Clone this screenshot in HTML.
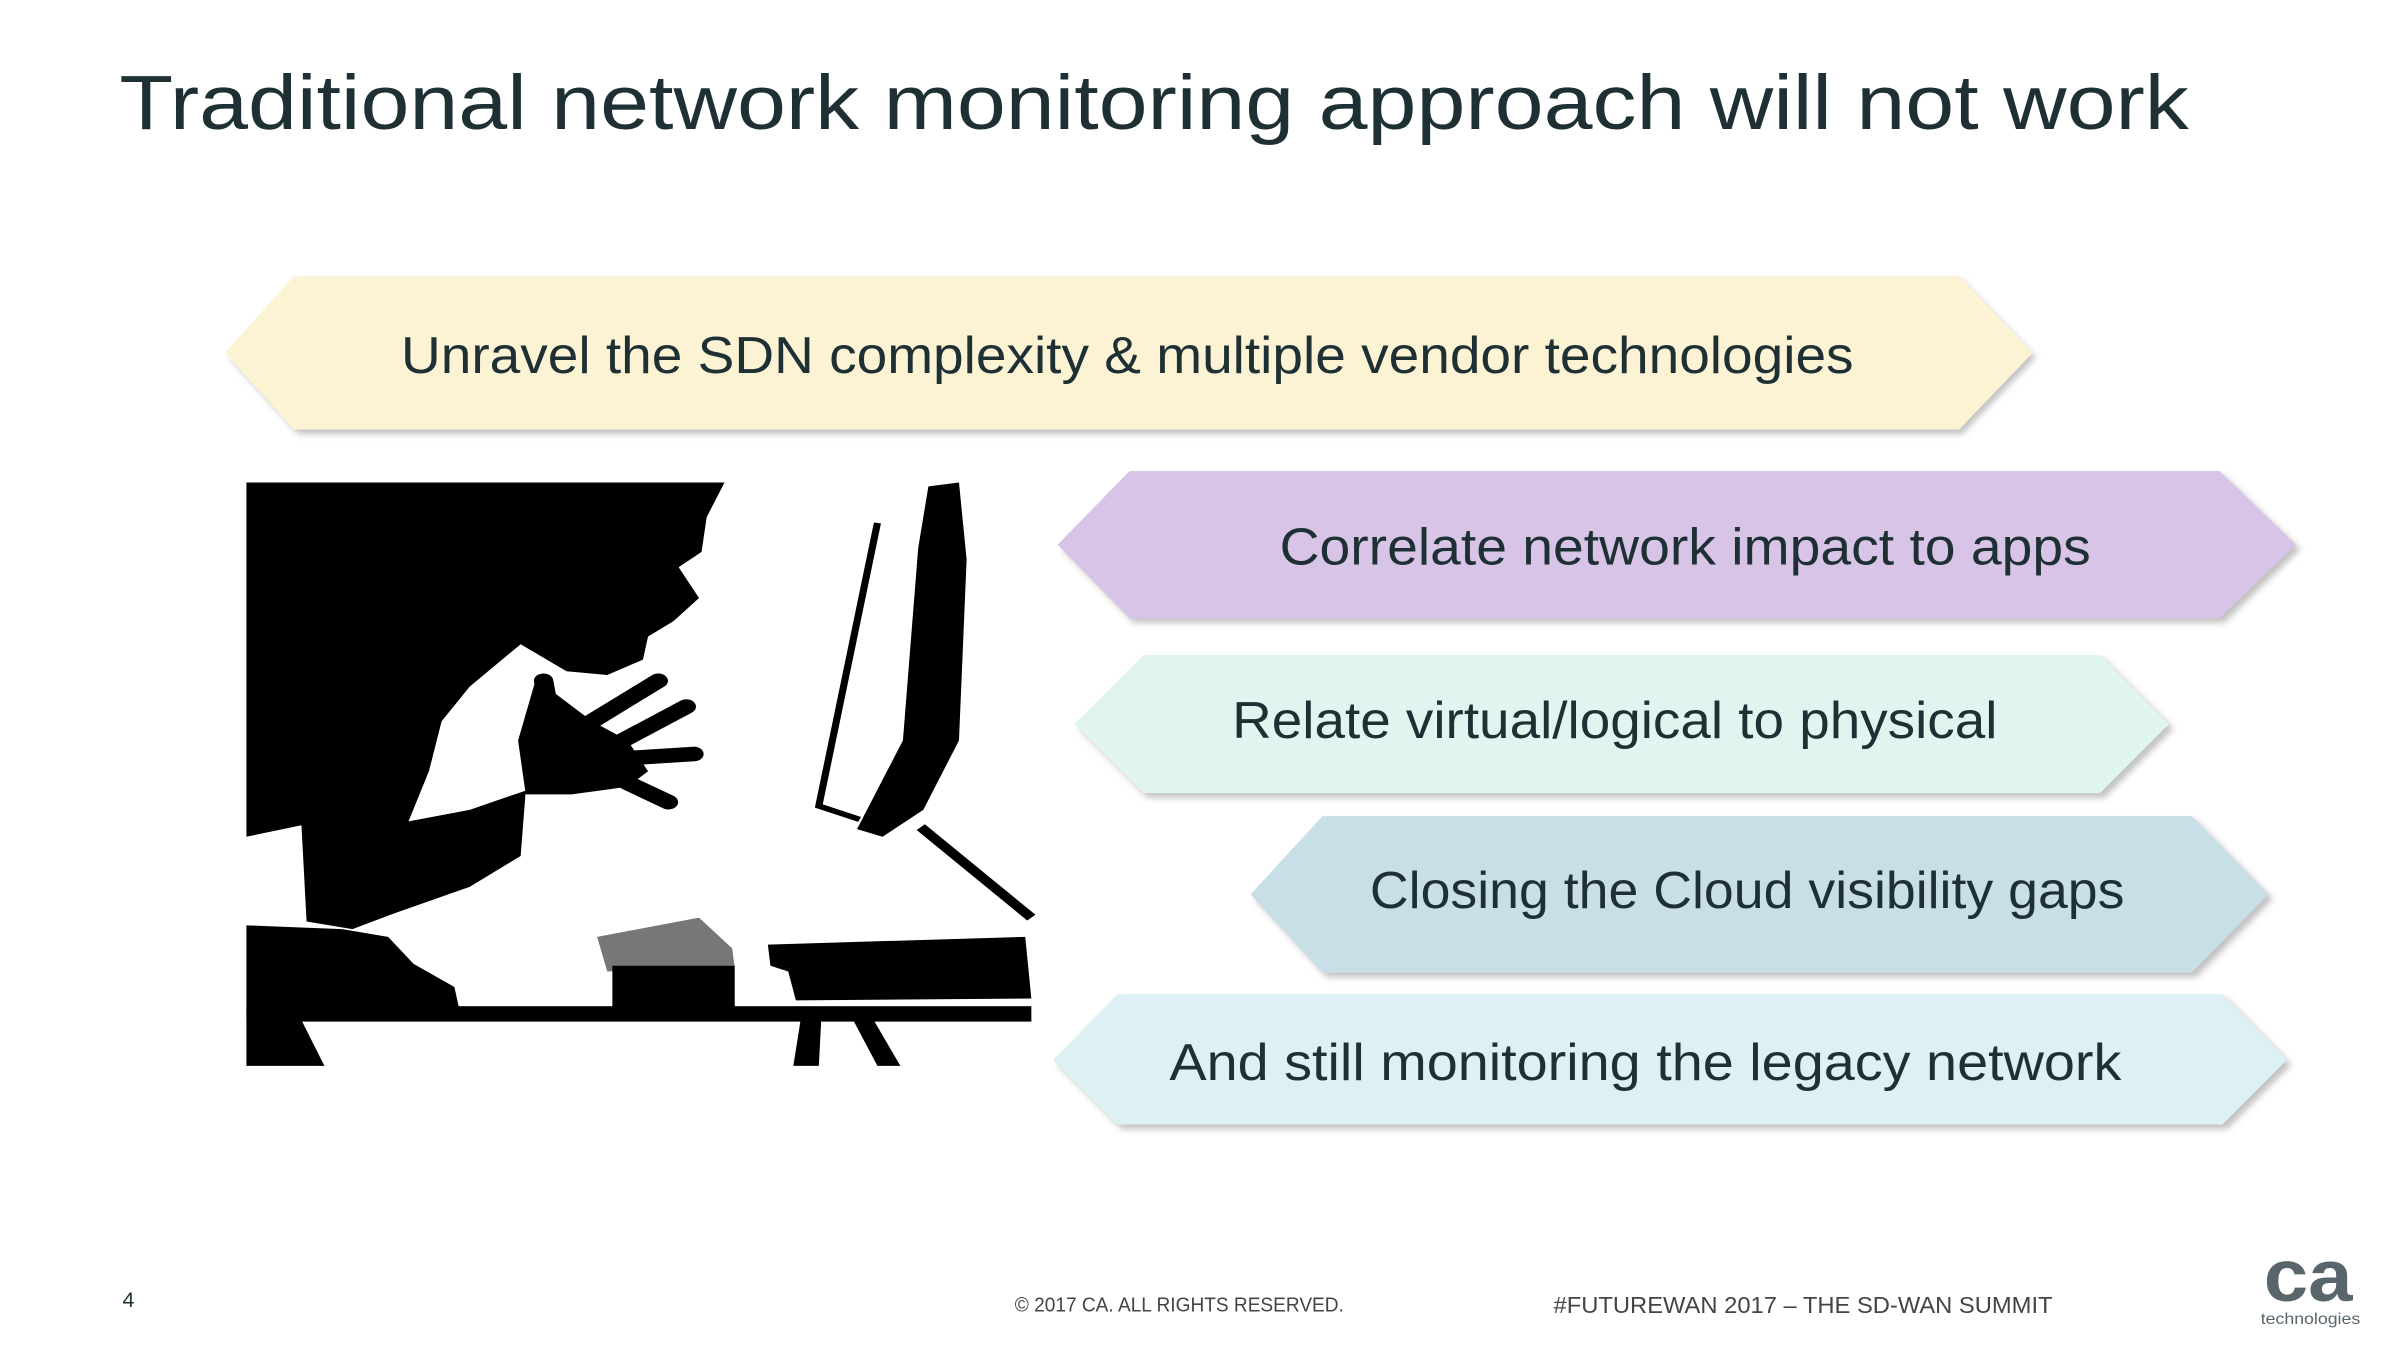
<!DOCTYPE html>
<html><head><meta charset="utf-8"><style>
html,body{margin:0;padding:0;background:#fff;}
svg{display:block;}
text{font-family:"Liberation Sans",sans-serif;fill:#1e3034;}
</style></head><body>
<svg width="2400" height="1350" viewBox="0 0 1568 880" preserveAspectRatio="none" xmlns="http://www.w3.org/2000/svg">
<defs><filter id="sh" x="-5%" y="-20%" width="110%" height="140%"><feGaussianBlur stdDeviation="2"/></filter></defs>
<rect width="1568" height="880" fill="#fff"/>
<text x="78" y="84" font-size="50" textLength="1352" lengthAdjust="spacingAndGlyphs">Traditional network monitoring approach will not work</text>

<!-- hexagons -->
<g>
<polygon points="150,233 195,183 1282,183 1330,233 1282,283 195,283" fill="#9a9a9a" opacity="0.6" filter="url(#sh)"/>
<polygon points="147,230 192,180 1280,180 1328,230 1280,280 192,280" fill="#fcf3d4"/>
<text x="262" y="243" font-size="34" textLength="949" lengthAdjust="spacingAndGlyphs">Unravel the SDN complexity &amp; multiple vendor technologies</text>

<polygon points="694,358 741,310 1453,310 1503,358 1453,406 741,406" fill="#9a9a9a" opacity="0.6" filter="url(#sh)"/>
<polygon points="691,355 738,307 1450,307 1500,355 1450,403 738,403" fill="#d8c4e6"/>
<text x="836" y="368" font-size="34" textLength="530" lengthAdjust="spacingAndGlyphs">Correlate network impact to apps</text>

<polygon points="705,475 750,430 1375,430 1420,475 1375,520 750,520" fill="#9a9a9a" opacity="0.6" filter="url(#sh)"/>
<polygon points="702,472 747,427 1372,427 1417,472 1372,517 747,517" fill="#e0f5ef"/>
<text x="805" y="481" font-size="34" textLength="500" lengthAdjust="spacingAndGlyphs">Relate virtual/logical to physical</text>

<polygon points="820,586 867,535 1435,535 1485,586 1435,637 867,637" fill="#9a9a9a" opacity="0.6" filter="url(#sh)"/>
<polygon points="817,583 864,532 1432,532 1482,583 1432,634 864,634" fill="#c9dfe8"/>
<text x="895" y="592" font-size="34" textLength="493" lengthAdjust="spacingAndGlyphs">Closing the Cloud visibility gaps</text>

<polygon points="691,694 733,651 1455,651 1497,694 1455,736 733,736" fill="#9a9a9a" opacity="0.6" filter="url(#sh)"/>
<polygon points="688,691 730,648 1452,648 1494,691 1452,733 730,733" fill="#ddf1f5"/>
<text x="764" y="704" font-size="34" textLength="622" lengthAdjust="spacingAndGlyphs">And still monitoring the legacy network</text>
</g>

<!-- silhouette image -->
<g transform="translate(157,307) scale(0.333,0.251)">
<rect x="12" y="30" width="1540" height="1515" fill="#fff"/>
<polygon fill="#000" points="12,30 950,30 915,120 905,210 860,250 900,330 850,390 800,430 790,490 720,530 640,520 550,450 450,560 395,650 370,780 330,910 450,880 560,830 550,1000 450,1080 300,1150 220,1190 130,1170 120,920 12,950"/>
<polygon fill="#000" points="580,540 640,600 690,650 760,700 800,780 760,820 650,840 560,840 545,700"/>
<g stroke="#000" stroke-width="38" stroke-linecap="round">
<line x1="690" y1="650" x2="820" y2="545"/>
<line x1="750" y1="700" x2="875" y2="612"/>
<line x1="770" y1="745" x2="890" y2="735"/>
<line x1="760" y1="810" x2="840" y2="860"/>
<line x1="610" y1="650" x2="595" y2="545"/>
</g>
<polygon fill="#000" points="12,1180 200,1190 290,1210 340,1280 420,1340 430,1400 12,1400"/>
<rect x="12" y="1390" width="1540" height="40" fill="#000"/>
<polygon fill="#000" points="12,1400 110,1400 165,1545 12,1545"/>
<polygon fill="#000" points="1100,1420 1140,1420 1135,1545 1085,1545"/>
<polygon fill="#000" points="1200,1420 1240,1420 1295,1545 1250,1545"/>
<polygon fill="#777" points="700,1210 900,1160 965,1240 970,1290 720,1300"/>
<rect x="730" y="1285" width="240" height="110" fill="#000"/>
<polygon fill="#000" points="1035,1230 1540,1210 1552,1370 1090,1375 1075,1300 1040,1285"/>
<polygon fill="#000" points="1350,40 1410,30 1425,230 1410,700 1340,880 1260,950 1210,930 1300,700 1330,200"/>
<polyline fill="none" stroke="#000" stroke-width="14" points="1250,135 1135,870 1215,905"/>
<line x1="1335" y1="925" x2="1552" y2="1160" stroke="#000" stroke-width="22"/>
</g>

<!-- footer -->
<text x="80" y="852" font-size="14" fill="#444">4</text>
<text x="663" y="855" font-size="13" textLength="215" lengthAdjust="spacingAndGlyphs" style="fill:#444">© 2017 CA. ALL RIGHTS RESERVED.</text>
<text x="1015" y="856" font-size="15" textLength="326" lengthAdjust="spacingAndGlyphs" style="fill:#444">#FUTUREWAN 2017 – THE SD-WAN SUMMIT</text>
<text x="1479" y="848" font-size="48" font-weight="bold" textLength="58" lengthAdjust="spacingAndGlyphs" style="fill:#58656b">ca</text>
<text x="1477" y="863" font-size="10" textLength="65" lengthAdjust="spacingAndGlyphs" style="fill:#58656b">technologies</text>
</svg>
</body></html>
